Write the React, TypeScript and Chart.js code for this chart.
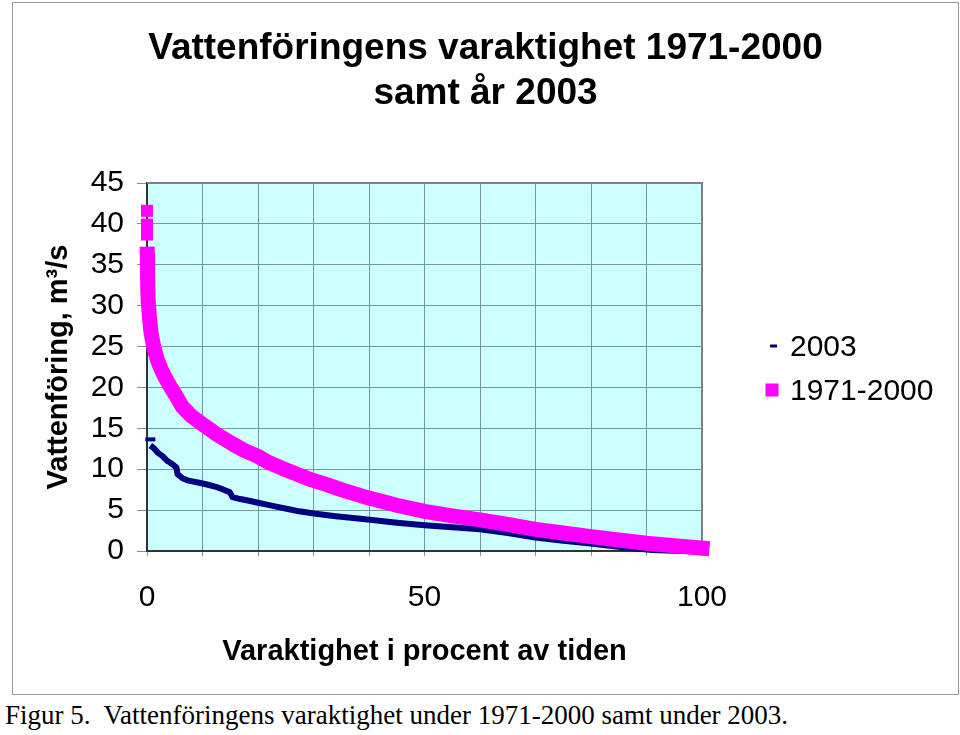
import React, { useEffect, useRef } from "react";
import { Chart, registerables } from "chart.js";

Chart.register(...registerables);

const TITLE_LINES = ["Vattenföringens varaktighet 1971-2000", "samt år 2003"];
const X_TITLE = "Varaktighet i procent av tiden";
const Y_TITLE = "Vattenföring, m³/s";
const CAPTION = "Figur 5.  Vattenföringens varaktighet under 1971-2000 samt under 2003.";
const SERIES_NAMES = ["2003", "1971-2000"];
const X_LABELED_TICKS = [0, 50, 100];
const X_RANGE = [0, 100, 10];
const Y_RANGE = [0, 45, 5];

// 1971-2000: isolated highest values at 0 %
const peakPct1971 = [0, 0, 0];
const peakFlow1971 = [41.6, 39.9, 38.7];
// 1971-2000: duration curve
const pct1971 = [0.05, 0.1, 0.2, 0.45, 0.75, 1.2, 1.8, 2.5, 3.2, 4.2, 5.3, 6.4, 8.0, 10, 12.5, 15.4, 17.5, 19.9, 22, 24.4, 27, 29.2, 32, 35, 39.8, 45, 50, 55, 60, 65, 70, 75, 80, 85, 90, 95, 100];
const flow1971 = [36.3, 33.5, 30.7, 28.5, 26.6, 25.0, 23.5, 22.3, 21.3, 20.1, 18.9, 17.6, 16.5, 15.5, 14.3, 13.1, 12.3, 11.6, 10.8, 10.1, 9.4, 8.8, 8.2, 7.5, 6.5, 5.6, 4.85, 4.3, 3.8, 3.25, 2.65, 2.2, 1.75, 1.35, 0.95, 0.65, 0.35];

// 2003: isolated highest value
const peakPct2003 = [0.6];
const peakFlow2003 = [13.65];
// 2003: duration curve
const pct2003 = [0.6, 1.2, 2.0, 2.8, 3.7, 4.6, 5.3, 5.5, 6.4, 7.5, 9.4, 11.0, 12.4, 13.8, 14.9, 15.4, 16.8, 18.4, 20.0, 21.4, 23.5, 25.6, 27.4, 30.4, 34, 37.6, 41, 45, 50, 55, 60, 65, 70, 75, 80, 85.6, 91, 95, 100];
const flow2003 = [12.9, 12.6, 12.0, 11.6, 11.0, 10.6, 10.2, 9.4, 8.9, 8.6, 8.35, 8.1, 7.85, 7.5, 7.2, 6.6, 6.35, 6.15, 5.9, 5.7, 5.4, 5.1, 4.85, 4.55, 4.25, 4.0, 3.75, 3.45, 3.15, 2.9, 2.65, 2.2, 1.65, 1.25, 0.9, 0.45, 0.12, 0.03, 0];

const COLOR_1971 = "#FF00FF";
const COLOR_2003 = "#000080";
const FONT = "'Liberation Sans', Arial, Helvetica, sans-serif";

const zip = (xs: number[], ys: number[]) => xs.map((x, i) => ({ x, y: ys[i] }));

const decorPlugin = {
  id: "decor",
  beforeDraw(chart: any) {
    const { ctx, chartArea: a } = chart;
    ctx.save();
    ctx.fillStyle = "#CCFFFF";
    ctx.fillRect(a.left, a.top, a.right - a.left, a.bottom - a.top);
    ctx.restore();
  },
  beforeDatasetsDraw(chart: any) {
    const { ctx, chartArea: a } = chart;
    ctx.save();
    ctx.strokeStyle = "#808080";
    ctx.lineWidth = 2;
    ctx.beginPath();
    ctx.moveTo(a.left, a.top);
    ctx.lineTo(a.right, a.top);
    ctx.lineTo(a.right, a.bottom);
    ctx.stroke();
    ctx.restore();
  },
  afterDraw(chart: any) {
    const { ctx } = chart;
    ctx.save();
    ctx.font = `30px ${FONT}`;
    ctx.textBaseline = "middle";
    ctx.textAlign = "left";
    // 2003 entry: dash marker
    ctx.fillStyle = COLOR_2003;
    ctx.fillRect(757, 341.5, 7, 3);
    ctx.fillStyle = "#000";
    ctx.fillText(SERIES_NAMES[0], 777, 344.5);
    // 1971-2000 entry: square marker
    ctx.fillStyle = COLOR_1971;
    ctx.fillRect(752.5, 380.5, 13, 13);
    ctx.fillStyle = "#000";
    ctx.fillText(SERIES_NAMES[1], 777, 388.5);
    ctx.restore();
  },
};

export default function App() {
  const canvasRef = useRef<HTMLCanvasElement | null>(null);

  useEffect(() => {
    if (!canvasRef.current) return;
    Chart.defaults.font.family = FONT;
    const chart = new Chart(canvasRef.current, {
      type: "scatter",
      data: {
        datasets: [
          {
            label: SERIES_NAMES[1] + " peak",
            data: zip(peakPct1971, peakFlow1971),
            showLine: false,
            pointStyle: "rect",
            pointRadius: 8.5,
            pointBorderWidth: 0,
            backgroundColor: COLOR_1971,
            borderColor: COLOR_1971,
            clip: false,
          },
          {
            label: SERIES_NAMES[1],
            data: zip(pct1971, flow1971),
            showLine: true,
            borderColor: COLOR_1971,
            backgroundColor: COLOR_1971,
            borderWidth: 15,
            borderCapStyle: "square",
            borderJoinStyle: "round",
            pointRadius: 0,
            clip: false,
          },
          {
            label: SERIES_NAMES[0] + " peak",
            data: zip(peakPct2003, peakFlow2003),
            showLine: false,
            pointStyle: "line",
            pointRadius: 5,
            pointBorderWidth: 4,
            borderColor: COLOR_2003,
            backgroundColor: COLOR_2003,
            clip: false,
          },
          {
            label: SERIES_NAMES[0],
            data: zip(pct2003, flow2003),
            showLine: true,
            borderColor: COLOR_2003,
            backgroundColor: COLOR_2003,
            borderWidth: 6,
            borderJoinStyle: "round",
            pointRadius: 0,
            clip: false,
          },
        ],
      },
      options: {
        responsive: false,
        animation: false,
        events: [],
        layout: { padding: 0 },
        plugins: {
          legend: { display: false },
          tooltip: { enabled: false },
          title: {
            display: true,
            text: TITLE_LINES,
            color: "#000",
            font: { family: FONT, size: 37, weight: "bold", lineHeight: 1.2 },
            padding: { top: 23.7, bottom: 67.5 },
          },
        },
        scales: {
          x: {
            type: "linear",
            min: X_RANGE[0],
            max: X_RANGE[1],
            ticks: {
              stepSize: X_RANGE[2],
              autoSkip: false,
              maxRotation: 0,
              padding: 24,
              color: "#000",
              font: { family: FONT, size: 30, lineHeight: 1.2 },
              callback: (v: any) => (X_LABELED_TICKS.includes(Number(v)) ? String(v) : ""),
            },
            grid: { color: "#7a9696", lineWidth: 1, tickLength: 5, drawTicks: true },
            border: { color: "#333333", width: 2 },
            title: {
              display: true,
              text: X_TITLE,
              color: "#000",
              font: { family: FONT, size: 29, weight: "bold", lineHeight: 1.2 },
              padding: { top: 0, bottom: 24.6 },
            },
            afterFit: (s: any) => {
              s.height = 143;
            },
          },
          y: {
            type: "linear",
            min: Y_RANGE[0],
            max: Y_RANGE[1],
            ticks: {
              stepSize: Y_RANGE[2],
              padding: 13,
              color: "#000",
              font: { family: FONT, size: 30, lineHeight: 1.2 },
            },
            grid: { color: "#7a9696", lineWidth: 1, tickLength: 10, drawTicks: true },
            border: { color: "#333333", width: 2 },
            title: {
              display: true,
              text: Y_TITLE,
              color: "#000",
              font: { family: FONT, size: 29, weight: "bold", lineHeight: 1.2 },
              padding: { top: 29, bottom: 0 },
            },
            afterFit: (s: any) => {
              s.width = 134;
            },
          },
          legendSpace: {
            type: "linear",
            position: "right",
            display: true,
            min: Y_RANGE[0],
            max: Y_RANGE[1],
            grid: { display: false, drawTicks: false },
            ticks: { display: false },
            border: { display: false },
            afterFit: (s: any) => {
              s.width = 256;
            },
          },
        },
      } as any,
      plugins: [decorPlugin],
    });
    return () => chart.destroy();
  }, []);

  return (
    <div style={{ position: "absolute", left: 0, top: 0, width: 960, height: 735, background: "#fff" }}>
      <div
        style={{
          position: "absolute",
          left: 12,
          top: 2,
          width: 947,
          height: 693,
          border: "1px solid #999",
          boxSizing: "border-box",
          background: "#fff",
        }}
      >
        <canvas ref={canvasRef} width={945} height={691} style={{ display: "block", width: 945, height: 691 }} />
      </div>
      <div
        style={{
          position: "absolute",
          left: 5,
          top: 702,
          fontFamily: "'Liberation Serif', 'Times New Roman', serif",
          fontSize: 27,
          lineHeight: "27px",
          whiteSpace: "pre",
          color: "#000",
        }}
      >
        {CAPTION}
      </div>
    </div>
  );
}
